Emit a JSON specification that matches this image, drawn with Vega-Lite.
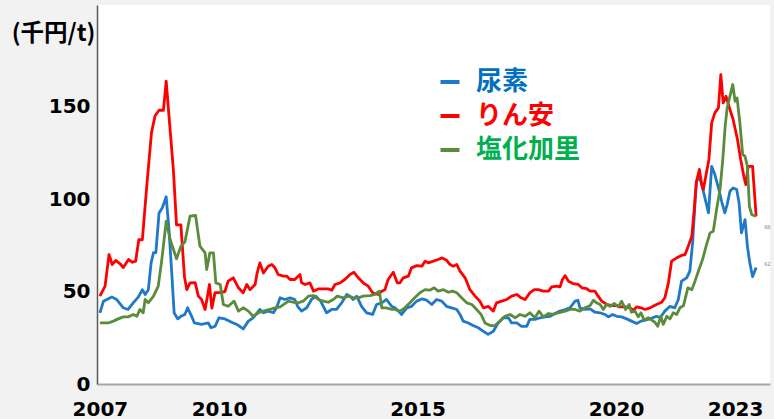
{
  "$schema": "https://vega.github.io/schema/vega-lite/v6.json",
  "width": 673,
  "height": 379,
  "autosize": {"type": "none"},
  "padding": {"left": 97, "top": 5, "right": 4, "bottom": 35},
  "background": "#f2f2f2",
  "config": {
    "view": {"stroke": null, "fill": "white"},
    "axis": {"grid": false, "ticks": false, "labelColor": "black", "labelFont": "DejaVu Sans", "labelFontWeight": "bold", "labelFontSize": 20}
  },
  "layer": [
    {
      "data": {"values": [
        {"s":"尿素","t":2007.00,"v":38.5},{"s":"尿素","t":2007.09,"v":44.8},{"s":"尿素","t":2007.30,"v":47.1},{"s":"尿素","t":2007.42,"v":45.7},{"s":"尿素","t":2007.59,"v":41.2},{"s":"尿素","t":2007.71,"v":40.3},{"s":"尿素","t":2007.84,"v":43.9},{"s":"尿素","t":2007.97,"v":47.1},{"s":"尿素","t":2008.07,"v":51},{"s":"尿素","t":2008.14,"v":48.4},{"s":"尿素","t":2008.22,"v":51},{"s":"尿素","t":2008.29,"v":65.5},{"s":"尿素","t":2008.35,"v":71},{"s":"尿素","t":2008.41,"v":71},{"s":"尿素","t":2008.49,"v":92.5},{"s":"尿素","t":2008.57,"v":95.2},{"s":"尿素","t":2008.67,"v":101.2},{"s":"尿素","t":2008.74,"v":83.5},{"s":"尿素","t":2008.81,"v":60},{"s":"尿素","t":2008.87,"v":38.5},{"s":"尿素","t":2008.96,"v":35.2},{"s":"尿素","t":2009.04,"v":36.6},{"s":"尿素","t":2009.14,"v":37.6},{"s":"尿素","t":2009.21,"v":41.2},{"s":"尿素","t":2009.31,"v":36.6},{"s":"尿素","t":2009.38,"v":33},{"s":"尿素","t":2009.56,"v":32.2},{"s":"尿素","t":2009.73,"v":33},{"s":"尿素","t":2009.80,"v":30.4},{"s":"尿素","t":2009.90,"v":31.2},{"s":"尿素","t":2010.00,"v":35.8},{"s":"尿素","t":2010.15,"v":35.2},{"s":"尿素","t":2010.32,"v":33.4},{"s":"尿素","t":2010.45,"v":32.2},{"s":"尿素","t":2010.61,"v":29.8},{"s":"尿素","t":2010.74,"v":34},{"s":"尿素","t":2010.86,"v":35.8},{"s":"尿素","t":2011.03,"v":40.3},{"s":"尿素","t":2011.12,"v":38.5},{"s":"尿素","t":2011.24,"v":39.4},{"s":"尿素","t":2011.37,"v":38.5},{"s":"尿素","t":2011.45,"v":41.2},{"s":"尿素","t":2011.54,"v":46.6},{"s":"尿素","t":2011.66,"v":45.7},{"s":"尿素","t":2011.79,"v":46.6},{"s":"尿素","t":2011.91,"v":45.7},{"s":"尿素","t":2011.98,"v":42},{"s":"尿素","t":2012.08,"v":39.4},{"s":"尿素","t":2012.21,"v":41.2},{"s":"尿素","t":2012.33,"v":45.7},{"s":"尿素","t":2012.44,"v":47.5},{"s":"尿素","t":2012.56,"v":44.8},{"s":"尿素","t":2012.71,"v":38.5},{"s":"尿素","t":2012.84,"v":40.3},{"s":"尿素","t":2012.96,"v":40.3},{"s":"尿素","t":2013.09,"v":43.9},{"s":"尿素","t":2013.22,"v":48.4},{"s":"尿素","t":2013.30,"v":47.5},{"s":"尿素","t":2013.38,"v":45.7},{"s":"尿素","t":2013.47,"v":47.5},{"s":"尿素","t":2013.59,"v":42},{"s":"尿素","t":2013.72,"v":38.5},{"s":"尿素","t":2013.87,"v":37.6},{"s":"尿素","t":2013.97,"v":43},{"s":"尿素","t":2014.10,"v":43.9},{"s":"尿素","t":2014.22,"v":45.7},{"s":"尿素","t":2014.35,"v":42},{"s":"尿素","t":2014.43,"v":41.2},{"s":"尿素","t":2014.52,"v":39.4},{"s":"尿素","t":2014.60,"v":37.6},{"s":"尿素","t":2014.73,"v":41.2},{"s":"尿素","t":2014.85,"v":42},{"s":"尿素","t":2014.98,"v":44.8},{"s":"尿素","t":2015.11,"v":46},{"s":"尿素","t":2015.23,"v":45.3},{"s":"尿素","t":2015.36,"v":43},{"s":"尿素","t":2015.48,"v":45.7},{"s":"尿素","t":2015.61,"v":44.8},{"s":"尿素","t":2015.73,"v":42},{"s":"尿素","t":2015.86,"v":41.2},{"s":"尿素","t":2015.99,"v":40.3},{"s":"尿素","t":2016.07,"v":37.6},{"s":"尿素","t":2016.15,"v":34},{"s":"尿素","t":2016.28,"v":33},{"s":"尿素","t":2016.40,"v":31.6},{"s":"尿素","t":2016.53,"v":30.4},{"s":"尿素","t":2016.66,"v":28.5},{"s":"尿素","t":2016.78,"v":26.8},{"s":"尿素","t":2016.91,"v":28.5},{"s":"尿素","t":2017.03,"v":33},{"s":"尿素","t":2017.16,"v":35.8},{"s":"尿素","t":2017.29,"v":35.8},{"s":"尿素","t":2017.37,"v":33},{"s":"尿素","t":2017.50,"v":33},{"s":"尿素","t":2017.62,"v":31.2},{"s":"尿素","t":2017.75,"v":31.2},{"s":"尿素","t":2017.83,"v":34.9},{"s":"尿素","t":2017.96,"v":34.9},{"s":"尿素","t":2018.09,"v":35.8},{"s":"尿素","t":2018.21,"v":36.3},{"s":"尿素","t":2018.34,"v":36.6},{"s":"尿素","t":2018.46,"v":38.1},{"s":"尿素","t":2018.59,"v":39.4},{"s":"尿素","t":2018.72,"v":40.3},{"s":"尿素","t":2018.84,"v":41.2},{"s":"尿素","t":2018.97,"v":44.8},{"s":"尿素","t":2019.04,"v":45.3},{"s":"尿素","t":2019.09,"v":41.2},{"s":"尿素","t":2019.22,"v":40.3},{"s":"尿素","t":2019.35,"v":40.6},{"s":"尿素","t":2019.47,"v":38.8},{"s":"尿素","t":2019.60,"v":38.5},{"s":"尿素","t":2019.72,"v":37.6},{"s":"尿素","t":2019.81,"v":36.3},{"s":"尿素","t":2019.91,"v":37.6},{"s":"尿素","t":2020.02,"v":36.6},{"s":"尿素","t":2020.14,"v":36.3},{"s":"尿素","t":2020.27,"v":35.2},{"s":"尿素","t":2020.39,"v":34},{"s":"尿素","t":2020.52,"v":32.7},{"s":"尿素","t":2020.63,"v":34},{"s":"尿素","t":2020.73,"v":34.5},{"s":"尿素","t":2020.86,"v":35.2},{"s":"尿素","t":2021.02,"v":36.6},{"s":"尿素","t":2021.11,"v":35.8},{"s":"尿素","t":2021.23,"v":39.4},{"s":"尿素","t":2021.36,"v":42},{"s":"尿素","t":2021.48,"v":41.2},{"s":"尿素","t":2021.57,"v":45.7},{"s":"尿素","t":2021.65,"v":55.6},{"s":"尿素","t":2021.78,"v":57.4},{"s":"尿素","t":2021.86,"v":61},{"s":"尿素","t":2021.93,"v":76.3},{"s":"尿素","t":2021.99,"v":97.9},{"s":"尿素","t":2022.03,"v":109.6},{"s":"尿素","t":2022.10,"v":112.3},{"s":"尿素","t":2022.18,"v":106},{"s":"尿素","t":2022.27,"v":97.9},{"s":"尿素","t":2022.33,"v":92.5},{"s":"尿素","t":2022.41,"v":117.7},{"s":"尿素","t":2022.49,"v":113.2},{"s":"尿素","t":2022.58,"v":106},{"s":"尿素","t":2022.66,"v":98.8},{"s":"尿素","t":2022.74,"v":92.5},{"s":"尿素","t":2022.80,"v":97},{"s":"尿素","t":2022.87,"v":104.2},{"s":"尿素","t":2022.95,"v":106},{"s":"尿素","t":2023.04,"v":105.1},{"s":"尿素","t":2023.10,"v":97.9},{"s":"尿素","t":2023.16,"v":81.7},{"s":"尿素","t":2023.25,"v":88.9},{"s":"尿素","t":2023.31,"v":74.5},{"s":"尿素","t":2023.37,"v":65.5},{"s":"尿素","t":2023.44,"v":58},{"s":"尿素","t":2023.53,"v":63},
        {"s":"りん安","t":2007.00,"v":47.5},{"s":"りん安","t":2007.13,"v":52.9},{"s":"りん安","t":2007.23,"v":70},{"s":"りん安","t":2007.31,"v":64.6},{"s":"りん安","t":2007.40,"v":66.8},{"s":"りん安","t":2007.51,"v":65},{"s":"りん安","t":2007.59,"v":63},{"s":"りん安","t":2007.72,"v":67.3},{"s":"りん安","t":2007.82,"v":65.8},{"s":"りん安","t":2007.90,"v":66.4},{"s":"りん安","t":2007.98,"v":78},{"s":"りん安","t":2008.07,"v":78},{"s":"りん安","t":2008.18,"v":107},{"s":"りん安","t":2008.30,"v":136},{"s":"りん安","t":2008.39,"v":145},{"s":"りん安","t":2008.49,"v":148},{"s":"りん安","t":2008.60,"v":148},{"s":"りん安","t":2008.67,"v":163.7},{"s":"りん安","t":2008.74,"v":145},{"s":"りん安","t":2008.85,"v":116},{"s":"りん安","t":2008.93,"v":86},{"s":"りん安","t":2009.04,"v":86},{"s":"りん安","t":2009.13,"v":58},{"s":"りん安","t":2009.19,"v":51},{"s":"りん安","t":2009.27,"v":54.7},{"s":"りん安","t":2009.40,"v":54.8},{"s":"りん安","t":2009.48,"v":47.5},{"s":"りん安","t":2009.56,"v":45.7},{"s":"りん安","t":2009.65,"v":40.3},{"s":"りん安","t":2009.76,"v":53.8},{"s":"りん安","t":2009.82,"v":41},{"s":"りん安","t":2009.90,"v":49.4},{"s":"りん安","t":2010.03,"v":49.4},{"s":"りん安","t":2010.15,"v":50},{"s":"りん安","t":2010.23,"v":55.6},{"s":"りん安","t":2010.36,"v":57.4},{"s":"りん安","t":2010.49,"v":52},{"s":"りん安","t":2010.61,"v":49.3},{"s":"りん安","t":2010.70,"v":53.8},{"s":"りん安","t":2010.78,"v":51},{"s":"りん安","t":2010.91,"v":53.8},{"s":"りん安","t":2010.96,"v":60},{"s":"りん安","t":2011.03,"v":65.5},{"s":"りん安","t":2011.12,"v":60},{"s":"りん安","t":2011.24,"v":63.7},{"s":"りん安","t":2011.33,"v":64.6},{"s":"りん安","t":2011.41,"v":62.8},{"s":"りん安","t":2011.49,"v":59.2},{"s":"りん安","t":2011.62,"v":58.3},{"s":"りん安","t":2011.71,"v":58.3},{"s":"りん安","t":2011.79,"v":56.5},{"s":"りん安","t":2011.91,"v":56.5},{"s":"りん安","t":2012.04,"v":59.2},{"s":"りん安","t":2012.08,"v":54.7},{"s":"りん安","t":2012.17,"v":53.8},{"s":"りん安","t":2012.29,"v":54.7},{"s":"りん安","t":2012.38,"v":50.2},{"s":"りん安","t":2012.50,"v":51.4},{"s":"りん安","t":2012.63,"v":51.4},{"s":"りん安","t":2012.75,"v":51.4},{"s":"りん安","t":2012.84,"v":50.7},{"s":"りん安","t":2012.92,"v":53.8},{"s":"りん安","t":2013.05,"v":54.7},{"s":"りん安","t":2013.17,"v":56.5},{"s":"りん安","t":2013.30,"v":59.2},{"s":"りん安","t":2013.40,"v":60.4},{"s":"りん安","t":2013.51,"v":57.4},{"s":"りん安","t":2013.63,"v":54.7},{"s":"りん安","t":2013.76,"v":52.9},{"s":"りん安","t":2013.87,"v":49.3},{"s":"りん安","t":2014.01,"v":48.4},{"s":"りん安","t":2014.10,"v":50.2},{"s":"りん安","t":2014.18,"v":51},{"s":"りん安","t":2014.26,"v":56.5},{"s":"りん安","t":2014.39,"v":60.4},{"s":"りん安","t":2014.49,"v":54.7},{"s":"りん安","t":2014.56,"v":54.7},{"s":"りん安","t":2014.64,"v":57.4},{"s":"りん安","t":2014.77,"v":58.3},{"s":"りん安","t":2014.85,"v":62.8},{"s":"りん安","t":2014.98,"v":64},{"s":"りん安","t":2015.11,"v":63.7},{"s":"りん安","t":2015.19,"v":66.4},{"s":"りん安","t":2015.27,"v":65.5},{"s":"りん安","t":2015.40,"v":66.4},{"s":"りん安","t":2015.52,"v":67.3},{"s":"りん安","t":2015.62,"v":68.2},{"s":"りん安","t":2015.73,"v":66.9},{"s":"りん安","t":2015.82,"v":64.6},{"s":"りん安","t":2015.90,"v":63.7},{"s":"りん安","t":2015.99,"v":64.6},{"s":"りん安","t":2016.07,"v":61},{"s":"りん安","t":2016.20,"v":57.4},{"s":"りん安","t":2016.32,"v":51},{"s":"りん安","t":2016.45,"v":47.5},{"s":"りん安","t":2016.57,"v":44.8},{"s":"りん安","t":2016.66,"v":41.2},{"s":"りん安","t":2016.78,"v":42},{"s":"りん安","t":2016.91,"v":39.4},{"s":"りん安","t":2016.99,"v":43.9},{"s":"りん安","t":2017.12,"v":44.8},{"s":"りん安","t":2017.25,"v":45.7},{"s":"りん安","t":2017.37,"v":47.5},{"s":"りん安","t":2017.50,"v":48.4},{"s":"りん安","t":2017.61,"v":46.6},{"s":"りん安","t":2017.71,"v":45.7},{"s":"りん安","t":2017.83,"v":49.3},{"s":"りん安","t":2017.94,"v":51},{"s":"りん安","t":2018.04,"v":51},{"s":"りん安","t":2018.17,"v":50.2},{"s":"りん安","t":2018.30,"v":50.2},{"s":"りん安","t":2018.38,"v":52.5},{"s":"りん安","t":2018.51,"v":52.9},{"s":"りん安","t":2018.59,"v":52.5},{"s":"りん安","t":2018.65,"v":56.5},{"s":"りん安","t":2018.72,"v":58.6},{"s":"りん安","t":2018.80,"v":55.6},{"s":"りん安","t":2018.92,"v":54.3},{"s":"りん安","t":2019.05,"v":53.8},{"s":"りん安","t":2019.14,"v":52},{"s":"りん安","t":2019.26,"v":51.5},{"s":"りん安","t":2019.35,"v":50.2},{"s":"りん安","t":2019.47,"v":50.2},{"s":"りん安","t":2019.55,"v":47.5},{"s":"りん安","t":2019.64,"v":44.8},{"s":"りん安","t":2019.77,"v":43},{"s":"りん安","t":2019.89,"v":42.4},{"s":"りん安","t":2020.02,"v":42.4},{"s":"りん安","t":2020.10,"v":41.7},{"s":"りん安","t":2020.23,"v":41.7},{"s":"りん安","t":2020.35,"v":41.2},{"s":"りん安","t":2020.44,"v":39.9},{"s":"りん安","t":2020.52,"v":41.7},{"s":"りん安","t":2020.63,"v":41.2},{"s":"りん安","t":2020.73,"v":40.3},{"s":"りん安","t":2020.86,"v":41.2},{"s":"りん安","t":2021.02,"v":43},{"s":"りん安","t":2021.15,"v":44.2},{"s":"りん安","t":2021.23,"v":46.6},{"s":"りん安","t":2021.32,"v":54.7},{"s":"りん安","t":2021.40,"v":66.4},{"s":"りん安","t":2021.53,"v":68.2},{"s":"りん安","t":2021.65,"v":69.5},{"s":"りん安","t":2021.74,"v":70},{"s":"りん安","t":2021.82,"v":74.5},{"s":"りん安","t":2021.91,"v":79.9},{"s":"りん安","t":2021.97,"v":94.3},{"s":"りん安","t":2022.02,"v":108.8},{"s":"りん安","t":2022.10,"v":116},{"s":"りん安","t":2022.16,"v":107.8},{"s":"りん安","t":2022.20,"v":105.1},{"s":"りん安","t":2022.27,"v":113.2},{"s":"りん安","t":2022.34,"v":121.4},{"s":"りん安","t":2022.41,"v":141.2},{"s":"りん安","t":2022.49,"v":146.6},{"s":"りん安","t":2022.58,"v":149.3},{"s":"りん安","t":2022.64,"v":167.3},{"s":"りん安","t":2022.70,"v":152},{"s":"りん安","t":2022.77,"v":155.6},{"s":"りん安","t":2022.87,"v":148.4},{"s":"りん安","t":2022.95,"v":143},{"s":"りん安","t":2023.06,"v":132.2},{"s":"りん安","t":2023.14,"v":121.4},{"s":"りん安","t":2023.22,"v":112.3},{"s":"りん安","t":2023.27,"v":107.8},{"s":"りん安","t":2023.33,"v":117.7},{"s":"りん安","t":2023.44,"v":117.7},{"s":"りん安","t":2023.53,"v":90.7},
        {"s":"塩化加里","t":2007.00,"v":33},{"s":"塩化加里","t":2007.21,"v":33},{"s":"塩化加里","t":2007.34,"v":34},{"s":"塩化加里","t":2007.46,"v":35.2},{"s":"塩化加里","t":2007.59,"v":36.3},{"s":"塩化加里","t":2007.72,"v":36.3},{"s":"塩化加里","t":2007.84,"v":37.6},{"s":"塩化加里","t":2007.93,"v":36.6},{"s":"塩化加里","t":2008.01,"v":40.3},{"s":"塩化加里","t":2008.09,"v":38.5},{"s":"塩化加里","t":2008.14,"v":45.7},{"s":"塩化加里","t":2008.22,"v":43.9},{"s":"塩化加里","t":2008.35,"v":47.5},{"s":"塩化加里","t":2008.47,"v":52.9},{"s":"塩化加里","t":2008.56,"v":67.3},{"s":"塩化加里","t":2008.67,"v":88},{"s":"塩化加里","t":2008.77,"v":78.1},{"s":"塩化加里","t":2008.93,"v":67.7},{"s":"塩化加里","t":2009.04,"v":74.5},{"s":"塩化加里","t":2009.14,"v":76.7},{"s":"塩化加里","t":2009.27,"v":90.7},{"s":"塩化加里","t":2009.41,"v":91.1},{"s":"塩化加里","t":2009.52,"v":74.5},{"s":"塩化加里","t":2009.65,"v":70.9},{"s":"塩化加里","t":2009.69,"v":61.9},{"s":"塩化加里","t":2009.77,"v":70.9},{"s":"塩化加里","t":2009.86,"v":70.9},{"s":"塩化加里","t":2009.92,"v":54.7},{"s":"塩化加里","t":2010.03,"v":53.8},{"s":"塩化加里","t":2010.11,"v":43},{"s":"塩化加里","t":2010.23,"v":42},{"s":"塩化加里","t":2010.38,"v":44.8},{"s":"塩化加里","t":2010.49,"v":39.4},{"s":"塩化加里","t":2010.61,"v":41.2},{"s":"塩化加里","t":2010.74,"v":39.4},{"s":"塩化加里","t":2010.86,"v":36.6},{"s":"塩化加里","t":2010.99,"v":38.5},{"s":"塩化加里","t":2011.12,"v":39.4},{"s":"塩化加里","t":2011.28,"v":40.3},{"s":"塩化加里","t":2011.41,"v":41.2},{"s":"塩化加里","t":2011.54,"v":41.7},{"s":"塩化加里","t":2011.66,"v":43.5},{"s":"塩化加里","t":2011.75,"v":44.8},{"s":"塩化加里","t":2011.87,"v":44.2},{"s":"塩化加里","t":2012.00,"v":43.9},{"s":"塩化加里","t":2012.12,"v":44.8},{"s":"塩化加里","t":2012.25,"v":47.5},{"s":"塩化加里","t":2012.38,"v":47.8},{"s":"塩化加里","t":2012.50,"v":45.7},{"s":"塩化加里","t":2012.63,"v":44.8},{"s":"塩化加里","t":2012.75,"v":44.2},{"s":"塩化加里","t":2012.88,"v":45.7},{"s":"塩化加里","t":2012.98,"v":47.5},{"s":"塩化加里","t":2013.13,"v":46.6},{"s":"塩化加里","t":2013.26,"v":47.5},{"s":"塩化加里","t":2013.38,"v":46.6},{"s":"塩化加里","t":2013.51,"v":46.6},{"s":"塩化加里","t":2013.63,"v":47.5},{"s":"塩化加里","t":2013.80,"v":47.8},{"s":"塩化加里","t":2013.93,"v":48.4},{"s":"塩化加里","t":2014.04,"v":50.2},{"s":"塩化加里","t":2014.10,"v":41.2},{"s":"塩化加里","t":2014.22,"v":41.2},{"s":"塩化加里","t":2014.35,"v":40.3},{"s":"塩化加里","t":2014.43,"v":40.3},{"s":"塩化加里","t":2014.56,"v":39.4},{"s":"塩化加里","t":2014.68,"v":41.2},{"s":"塩化加里","t":2014.81,"v":43.9},{"s":"塩化加里","t":2014.93,"v":46.6},{"s":"塩化加里","t":2015.06,"v":49.3},{"s":"塩化加里","t":2015.19,"v":51},{"s":"塩化加里","t":2015.31,"v":50.7},{"s":"塩化加里","t":2015.42,"v":52},{"s":"塩化加里","t":2015.52,"v":50.2},{"s":"塩化加里","t":2015.65,"v":51},{"s":"塩化加里","t":2015.78,"v":49.6},{"s":"塩化加里","t":2015.88,"v":50.2},{"s":"塩化加里","t":2015.99,"v":49.3},{"s":"塩化加里","t":2016.11,"v":46.6},{"s":"塩化加里","t":2016.24,"v":43.9},{"s":"塩化加里","t":2016.37,"v":43},{"s":"塩化加里","t":2016.49,"v":40.3},{"s":"塩化加里","t":2016.60,"v":37.6},{"s":"塩化加里","t":2016.70,"v":33},{"s":"塩化加里","t":2016.83,"v":31.6},{"s":"塩化加里","t":2016.95,"v":31.6},{"s":"塩化加里","t":2017.08,"v":34},{"s":"塩化加里","t":2017.20,"v":36.6},{"s":"塩化加里","t":2017.33,"v":37.6},{"s":"塩化加里","t":2017.46,"v":35.8},{"s":"塩化加里","t":2017.58,"v":37.6},{"s":"塩化加里","t":2017.71,"v":36.6},{"s":"塩化加里","t":2017.83,"v":38.5},{"s":"塩化加里","t":2017.96,"v":35.8},{"s":"塩化加里","t":2018.06,"v":39.4},{"s":"塩化加里","t":2018.17,"v":36.3},{"s":"塩化加里","t":2018.30,"v":38.1},{"s":"塩化加里","t":2018.42,"v":37.6},{"s":"塩化加里","t":2018.55,"v":38.5},{"s":"塩化加里","t":2018.72,"v":39.4},{"s":"塩化加里","t":2018.84,"v":40.3},{"s":"塩化加里","t":2018.97,"v":40.3},{"s":"塩化加里","t":2019.09,"v":39.4},{"s":"塩化加里","t":2019.22,"v":41.2},{"s":"塩化加里","t":2019.35,"v":42.4},{"s":"塩化加里","t":2019.43,"v":45.3},{"s":"塩化加里","t":2019.51,"v":43.9},{"s":"塩化加里","t":2019.60,"v":43},{"s":"塩化加里","t":2019.68,"v":40.3},{"s":"塩化加里","t":2019.76,"v":43},{"s":"塩化加里","t":2019.85,"v":42},{"s":"塩化加里","t":2019.96,"v":43.5},{"s":"塩化加里","t":2020.06,"v":41.7},{"s":"塩化加里","t":2020.14,"v":44.8},{"s":"塩化加里","t":2020.24,"v":40.3},{"s":"塩化加里","t":2020.33,"v":43},{"s":"塩化加里","t":2020.39,"v":38.8},{"s":"塩化加里","t":2020.48,"v":39.4},{"s":"塩化加里","t":2020.56,"v":36.3},{"s":"塩化加里","t":2020.63,"v":38.5},{"s":"塩化加里","t":2020.71,"v":34.5},{"s":"塩化加里","t":2020.81,"v":35.8},{"s":"塩化加里","t":2020.90,"v":34.5},{"s":"塩化加里","t":2020.98,"v":33.4},{"s":"塩化加里","t":2021.05,"v":31.2},{"s":"塩化加里","t":2021.13,"v":36.6},{"s":"塩化加里","t":2021.19,"v":32.2},{"s":"塩化加里","t":2021.28,"v":36.6},{"s":"塩化加里","t":2021.36,"v":35.2},{"s":"塩化加里","t":2021.44,"v":38.5},{"s":"塩化加里","t":2021.53,"v":37.6},{"s":"塩化加里","t":2021.61,"v":41.2},{"s":"塩化加里","t":2021.70,"v":42.4},{"s":"塩化加里","t":2021.81,"v":52},{"s":"塩化加里","t":2021.91,"v":51},{"s":"塩化加里","t":2021.99,"v":55.6},{"s":"塩化加里","t":2022.09,"v":61.9},{"s":"塩化加里","t":2022.18,"v":67.3},{"s":"塩化加里","t":2022.27,"v":74.5},{"s":"塩化加里","t":2022.37,"v":81.7},{"s":"塩化加里","t":2022.45,"v":82.6},{"s":"塩化加里","t":2022.54,"v":95.2},{"s":"塩化加里","t":2022.62,"v":105.1},{"s":"塩化加里","t":2022.69,"v":121.4},{"s":"塩化加里","t":2022.75,"v":139.4},{"s":"塩化加里","t":2022.80,"v":149.3},{"s":"塩化加里","t":2022.87,"v":155.6},{"s":"塩化加里","t":2022.94,"v":161.9},{"s":"塩化加里","t":2023.00,"v":152.9},{"s":"塩化加里","t":2023.05,"v":154.7},{"s":"塩化加里","t":2023.12,"v":141.2},{"s":"塩化加里","t":2023.19,"v":124.1},{"s":"塩化加里","t":2023.25,"v":123.1},{"s":"塩化加里","t":2023.31,"v":117.7},{"s":"塩化加里","t":2023.36,"v":96.1},{"s":"塩化加里","t":2023.42,"v":91.6},{"s":"塩化加里","t":2023.53,"v":90.7}
      ]},
      "mark": {"type": "line", "strokeWidth": 2.8, "strokeJoin": "round"},
      "encoding": {
        "x": {"field": "t", "type": "quantitative",
          "scale": {"domain": [2006.927, 2023.879], "nice": false, "zero": false},
          "axis": {"values": [2007, 2010, 2015, 2020, 2023], "format": "d", "title": null, "domainColor": "#a6a6a6", "domainWidth": 2, "labelPadding": 15, "labelFlush": false, "labelOverlap": false}},
        "y": {"field": "v", "type": "quantitative",
          "scale": {"domain": [0, 204.9], "nice": false},
          "axis": {"values": [0, 50, 100, 150], "title": "(千円/t)", "titleAngle": 0, "titleAlign": "right", "titleBaseline": "alphabetic", "titleX": -2, "titleY": 35, "titleFont": "Noto Sans CJK JP", "titleFontSize": 23.5, "titleFontWeight": "bold", "titleColor": "black", "domainColor": "#595959", "domainWidth": 1.5, "labelPadding": 7}},
        "color": {"field": "s", "type": "nominal",
          "scale": {"domain": ["尿素", "りん安", "塩化加里"], "range": ["#1f78c8", "#ff0000", "#5a8c3c"]},
          "legend": {"title": null, "orient": "none", "legendX": 340, "legendY": 64, "padding": 0,
            "symbolType": "stroke", "symbolSize": 361, "symbolStrokeWidth": 4,
            "labelFont": "Noto Sans CJK JP", "labelFontSize": 26, "labelFontWeight": "bold", "labelOffset": 13, "rowPadding": 8,
            "encode": {
              "labels": {"update": {"fill": {"signal": "datum.value === '尿素' ? '#0070C0' : datum.value === 'りん安' ? '#FF0000' : '#00B050'"}}},
              "symbols": {"update": {"stroke": {"signal": "datum.value === '尿素' ? '#0070C0' : datum.value === 'りん安' ? '#FF0000' : '#00B050'"}}}
            }}}
      }
    },
    {
      "data": {"values": [
        {"t": 2023.53, "v": 85, "lab": "88"},
        {"t": 2023.53, "v": 65, "lab": "62"}
      ]},
      "mark": {"type": "text", "align": "left", "dx": 8, "fontSize": 5, "fill": "#7f7f7f", "font": "DejaVu Sans"},
      "encoding": {
        "x": {"field": "t", "type": "quantitative"},
        "y": {"field": "v", "type": "quantitative"},
        "text": {"field": "lab"}
      }
    }
  ]
}
